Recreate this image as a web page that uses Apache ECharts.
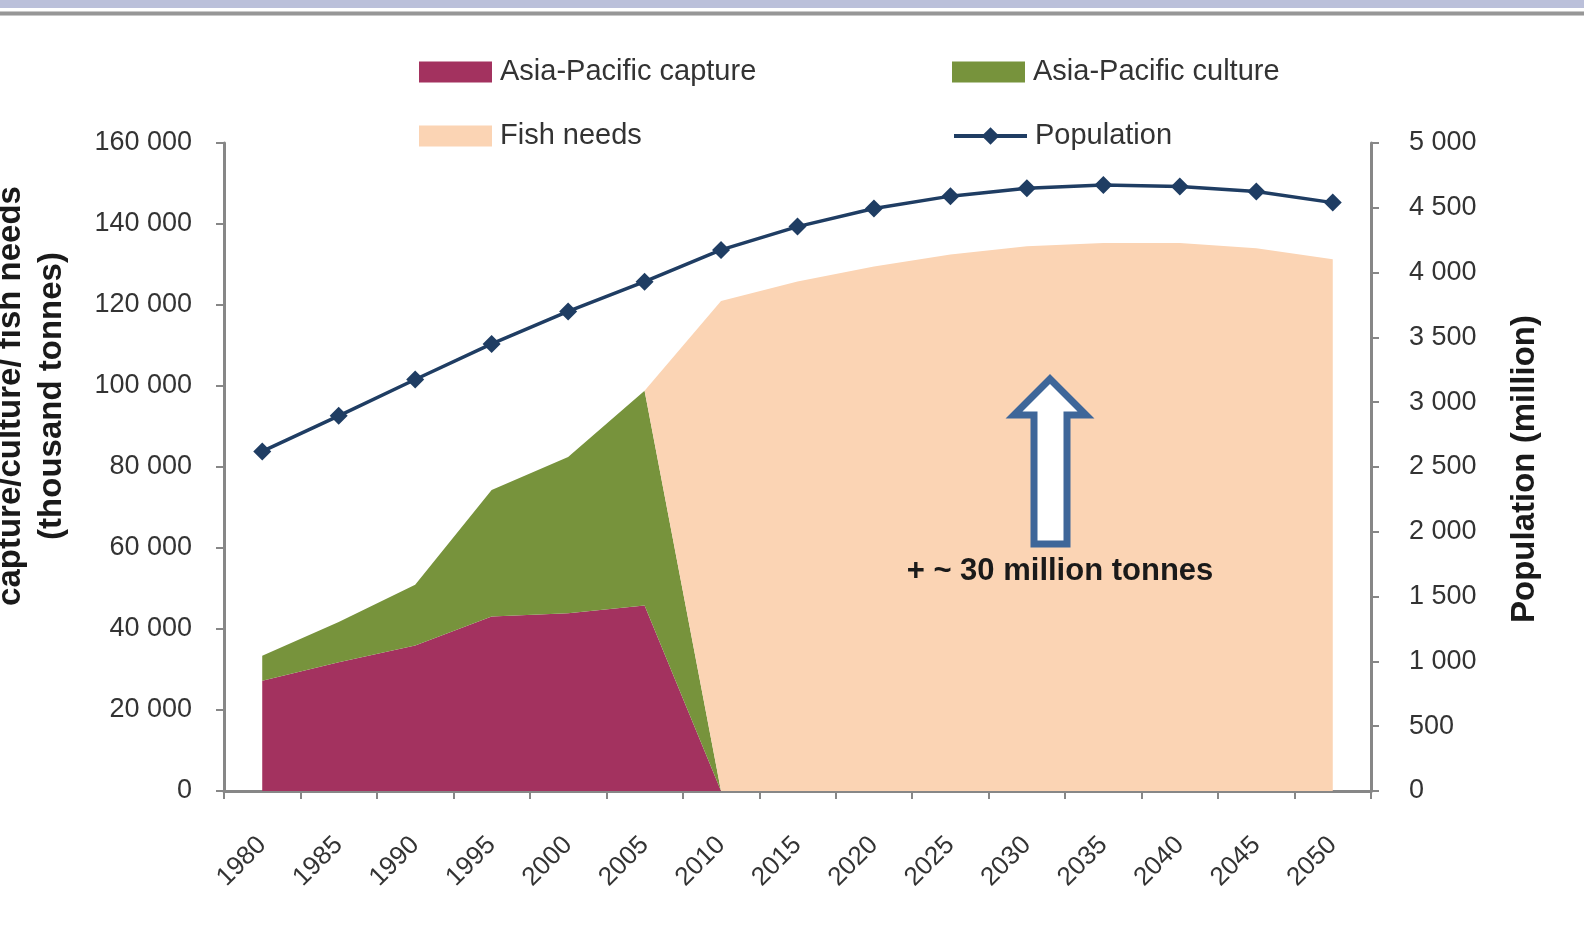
<!DOCTYPE html>
<html>
<head>
<meta charset="utf-8">
<script src="https://cdn.jsdelivr.net/npm/echarts@6/dist/echarts.min.js"></script>
<style>
html,body{margin:0;padding:0;background:#fff;}
#main{width:1584px;height:934px;}
</style>
</head>
<body>
<div id="main"></div>
<script>
// ---- data ----
var years = ['1980','1985','1990','1995','2000','2005','2010','2015','2020','2025','2030','2035','2040','2045','2050'];
var capture = [27200, 31800, 35900, 43100, 43900, 45800, 0, 0, 0, 0, 0, 0, 0, 0, 0];
var culture = [6200, 9900, 15000, 31200, 38600, 53000, 0, 0, 0, 0, 0, 0, 0, 0, 0];
var fishNeeds = [0, 0, 0, 0, 0, 0, 121000, 125800, 129500, 132500, 134500, 135300, 135300, 134000, 131300];
var population = [2620, 2895, 3175, 3450, 3700, 3930, 4175, 4355, 4495, 4590, 4650, 4675, 4665, 4625, 4540];
var leftTicks = {min: 0, max: 160000, interval: 20000};
var rightTicks = {min: 0, max: 5000, interval: 500};
var names = ['Asia-Pacific capture', 'Asia-Pacific culture', 'Fish needs', 'Population'];

var FONT = 'Liberation Sans, Arial, sans-serif';
var AXIS_COLOR = '#878787';
function spaced(v){ return String(v).replace(/\B(?=(\d{3})+(?!\d))/g, ' '); }

var chart = echarts.init(document.getElementById('main'), null, {renderer: 'canvas'});

function legendItem(name, left, top, isLine){
  var l = {
    data: [name], left: left, top: top, padding: 0,
    itemWidth: 73, itemHeight: 21, itemGap: 0,
    textStyle: {fontFamily: FONT, fontSize: 29, color: '#333', lineHeight: 32, padding: [0,0,0,3]}
  };
  if (isLine) {
    l.lineStyle = {width: 4, color: '#1F3D63'};
    l.itemHeight = 22;
  } else {
    l.icon = 'rect';
  }
  return l;
}

var option = {
  animation: false,
  backgroundColor: '#fff',
  textStyle: {fontFamily: FONT},
  legend: [
    legendItem(names[0], 419, 56, false),
    legendItem(names[2], 419, 120, false),
    legendItem(names[1], 952, 56, false),
    legendItem(names[3], 952, 120, true)
  ],
  grid: {left: 224, right: 213, top: 143, bottom: 143, containLabel: false},
  xAxis: {
    type: 'category', data: years, boundaryGap: true,
    axisLine: {lineStyle: {color: AXIS_COLOR, width: 3}},
    axisTick: {show: true, length: 8, lineStyle: {color: AXIS_COLOR, width: 2}},
    axisLabel: {rotate: 45, fontSize: 26, color: '#333', margin: 50, fontFamily: FONT, interval: 0},
    splitLine: {show: false}
  },
  yAxis: [
    {
      type: 'value', position: 'left', min: leftTicks.min, max: leftTicks.max, interval: leftTicks.interval,
      axisLine: {show: true, lineStyle: {color: AXIS_COLOR, width: 3}},
      axisTick: {show: true, length: 8, lineStyle: {color: AXIS_COLOR, width: 2}},
      axisLabel: {fontSize: 27, color: '#333', margin: 32, fontFamily: FONT, formatter: spaced},
      splitLine: {show: false}
    },
    {
      type: 'value', position: 'right', min: rightTicks.min, max: rightTicks.max, interval: rightTicks.interval,
      axisLine: {show: true, lineStyle: {color: AXIS_COLOR, width: 3}},
      axisTick: {show: true, length: 8, lineStyle: {color: AXIS_COLOR, width: 2}},
      axisLabel: {fontSize: 27, color: '#333', margin: 38, fontFamily: FONT, formatter: spaced},
      splitLine: {show: false}
    }
  ],
  series: [
    {
      name: names[0], type: 'line', stack: 'fish', data: capture, yAxisIndex: 0,
      symbol: 'none', color: '#A3325F',
      lineStyle: {width: 0, opacity: 0},
      areaStyle: {color: '#A3325F', opacity: 1}, z: 2
    },
    {
      name: names[1], type: 'line', stack: 'fish', data: culture, yAxisIndex: 0,
      symbol: 'none', color: '#77933C',
      lineStyle: {width: 0, opacity: 0},
      areaStyle: {color: '#77933C', opacity: 1}, z: 2
    },
    {
      name: names[2], type: 'line', stack: 'fish', data: fishNeeds, yAxisIndex: 0,
      symbol: 'none', color: '#FBD4B4',
      lineStyle: {width: 0, opacity: 0},
      areaStyle: {color: '#FBD4B4', opacity: 1}, z: 2
    },
    {
      name: names[3], type: 'line', data: population, yAxisIndex: 1,
      symbol: 'diamond', symbolSize: 18, color: '#1F3D63',
      lineStyle: {width: 3.5, color: '#1F3D63'},
      itemStyle: {color: '#1F3D63'}, z: 5
    }
  ],
  graphic: [
    {type: 'rect', shape: {x: 0, y: 0, width: 1584, height: 8}, style: {fill: '#BBC0DA'}, z: 100, silent: true},
    {type: 'rect', shape: {x: 0, y: 11, width: 1584, height: 5}, style: {fill: '#C8C8C8'}, z: 100, silent: true},
    {type: 'rect', shape: {x: 0, y: 12, width: 1584, height: 3}, style: {fill: '#979797'}, z: 101, silent: true},
    {
      type: 'polygon', z: 100, silent: true,
      shape: {points: [[1050, 379], [1086, 415], [1067, 415], [1067, 544], [1034, 544], [1034, 415], [1014, 415]]},
      style: {fill: '#FFFFFF', stroke: '#3E6699', lineWidth: 7, lineJoin: 'miter'}
    },
    {
      type: 'text', z: 100, silent: true, x: 1060, y: 571,
      style: {text: '+ ~ 30 million tonnes', font: 'bold 31px ' + FONT, fill: '#1a1a1a', align: 'center', verticalAlign: 'middle'}
    },
    {
      type: 'text', z: 100, silent: true, x: 31, y: 396, rotation: Math.PI / 2,
      style: {text: 'capture/culture/ fish needs\n(thousand tonnes)', font: 'bold 33px ' + FONT, lineHeight: 41, fill: '#1a1a1a', align: 'center', verticalAlign: 'middle'}
    },
    {
      type: 'text', z: 100, silent: true, x: 1525, y: 469, rotation: Math.PI / 2,
      style: {text: 'Population (million)', font: 'bold 33px ' + FONT, fill: '#1a1a1a', align: 'center', verticalAlign: 'middle'}
    }
  ]
};
chart.setOption(option);
</script>
</body>
</html>
